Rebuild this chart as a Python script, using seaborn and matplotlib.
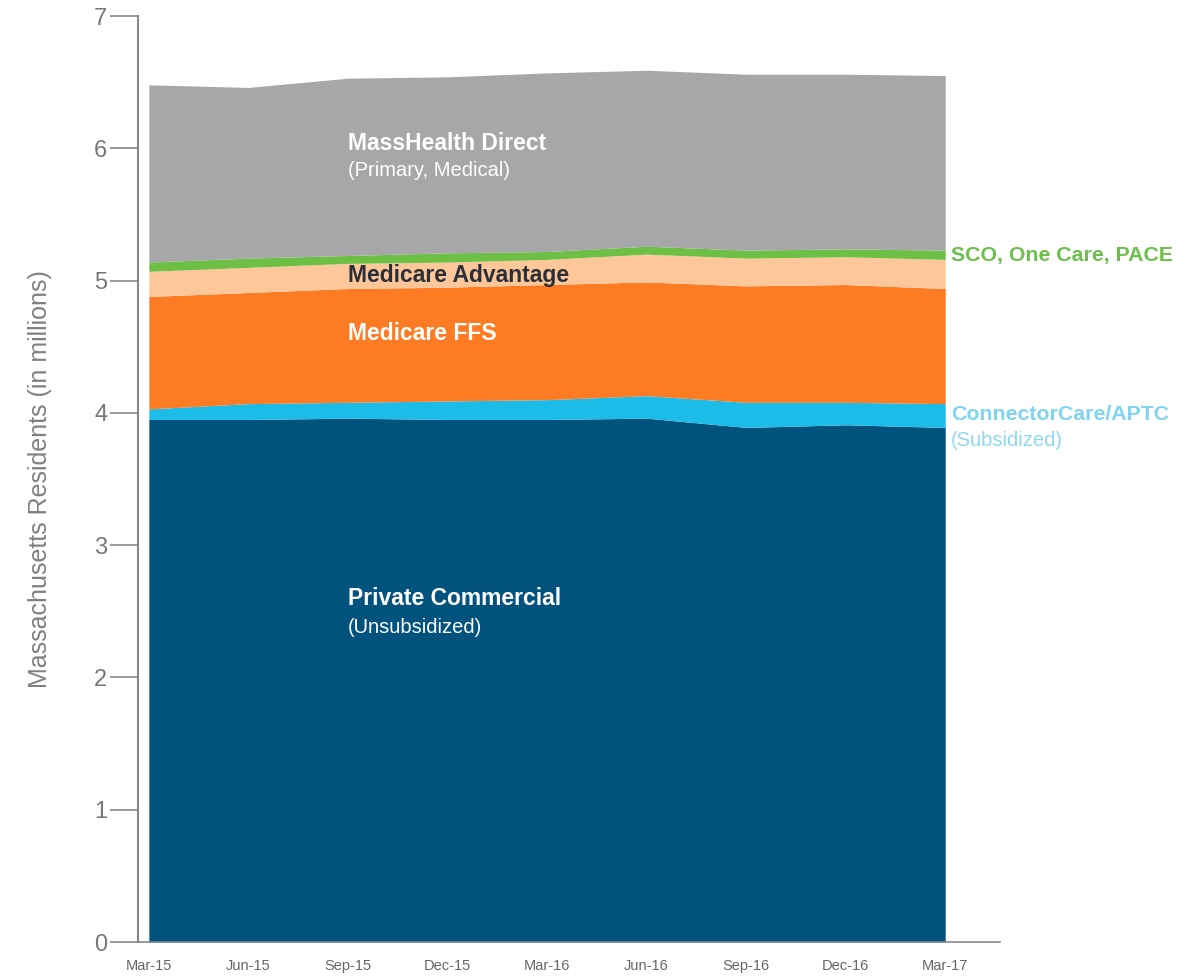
import matplotlib
matplotlib.use('Agg')
import matplotlib.pyplot as plt
import seaborn as sns
import numpy as np

# data (millions of residents)
quarters = ['Mar-15', 'Jun-15', 'Sep-15', 'Dec-15', 'Mar-16', 'Jun-16', 'Sep-16', 'Dec-16', 'Mar-17']
private_commercial = [3.95, 3.95, 3.96, 3.95, 3.95, 3.96, 3.89, 3.91, 3.89]
connector_care = [0.08, 0.12, 0.12, 0.14, 0.15, 0.17, 0.19, 0.17, 0.18]
medicare_ffs = [0.85, 0.84, 0.86, 0.86, 0.87, 0.86, 0.88, 0.89, 0.87]
medicare_adv = [0.19, 0.19, 0.19, 0.19, 0.19, 0.21, 0.21, 0.21, 0.22]
sco_onecare = [0.07, 0.07, 0.06, 0.07, 0.06, 0.06, 0.06, 0.06, 0.07]
masshealth = [1.34, 1.29, 1.34, 1.33, 1.35, 1.33, 1.33, 1.32, 1.32]

colors = ['#02527e', '#1bbde8', '#fc7b23', '#fdc79a', '#6dbf45', '#a7a7a9']

sns.set_style('white')
plt.rcParams['font.family'] = ['Liberation Sans', 'DejaVu Sans']

fig = plt.figure(figsize=(11.99, 9.76), dpi=100)
ax = fig.add_axes([0.115, 0.0348, 0.719, 0.9488])

x = np.arange(len(quarters))
ax.stackplot(x, private_commercial, connector_care, medicare_ffs,
             medicare_adv, sco_onecare, masshealth, colors=colors, linewidth=0)

ax.set_xlim(-0.11, 8.55)
ax.set_ylim(0, 7)
ax.set_xticks(x)
ax.set_xticklabels(quarters, fontsize=10.5, color='#666666')
ax.set_yticks(range(8))
ax.set_yticklabels([str(i) for i in range(8)], fontsize=17, color='#777777')
ax.tick_params(axis='y', length=20, width=1.2, color='#888888', left=True, pad=2)
ax.tick_params(axis='x', length=0, pad=12)
sns.despine(ax=ax, top=True, right=True)
ax.spines['left'].set_color('#888888')
ax.spines['left'].set_linewidth(1.5)
ax.spines['bottom'].set_color('#888888')
ax.spines['bottom'].set_linewidth(1.2)
ax.set_ylabel('Massachusetts Residents (in millions)', fontsize=18, color='#808080',
              labelpad=30)

bold = dict(fontsize=16.5, fontweight='bold', va='center', ha='left')
sub = dict(fontsize=14.5, va='center', ha='left')
ax.text(2.0, 6.04, 'MassHealth Direct', color='white', **bold)
ax.text(2.0, 5.83, '(Primary, Medical)', color='white', **sub)
ax.text(2.0, 5.04, 'Medicare Advantage', color='#2b2f38', **bold)
ax.text(2.0, 4.60, 'Medicare FFS', color='white', **bold)
ax.text(2.0, 2.60, 'Private Commercial', color='white', **bold)
ax.text(2.0, 2.38, '(Unsubsidized)', color='white', **sub)
right = dict(fontsize=15.3, fontweight='bold', va='center', ha='left', clip_on=False)
ax.text(8.06, 5.19, 'SCO, One Care, PACE', color='#6cbf4a', **right)
ax.text(8.06, 3.99, 'ConnectorCare/APTC', color='#7fd4f0', **right)
ax.text(8.06, 3.79, '(Subsidized)', color='#8fd8f2', **sub)

fig.savefig('out.png', dpi=100)
